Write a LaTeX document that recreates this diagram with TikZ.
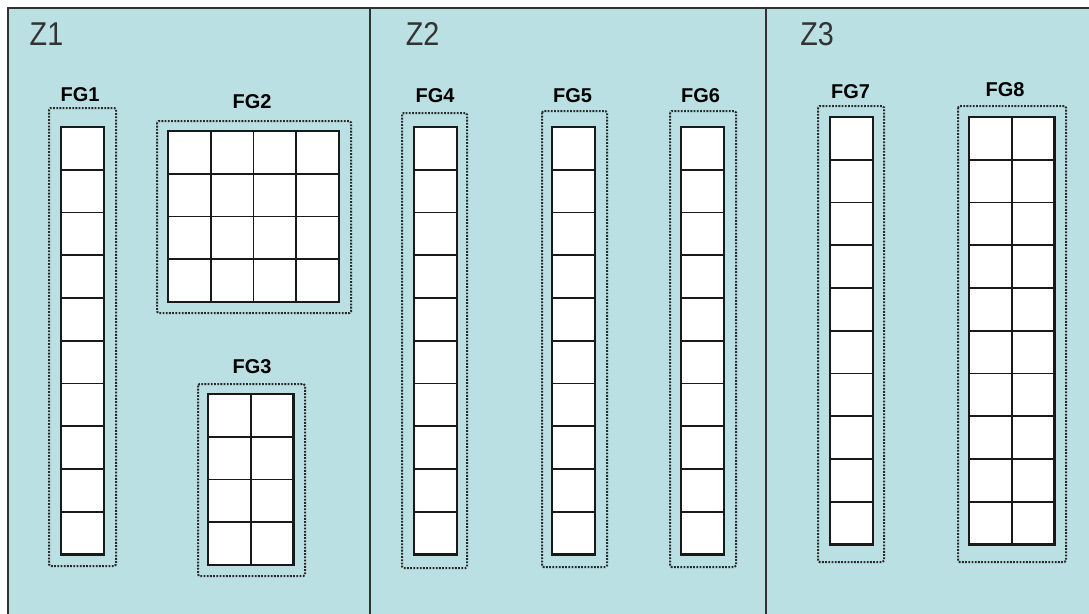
\documentclass[tikz,border=0pt]{standalone}
\usepackage{fontspec}
\setmainfont{Liberation Sans}
\definecolor{zonebg}{RGB}{187,224,227}
\definecolor{frameline}{RGB}{50,50,50}
\definecolor{dotline}{RGB}{40,40,40}
\begin{document}
\def\cw{42.75}
\newcommand\FGcells[4]{%
  \fill[white] (#1,#2) rectangle ++({#3*\cw},{#4*\cw});
  \foreach \i in {1,...,#3}{\foreach \j in {1,...,#4}{%
    \draw[cellline] ({#1+(\i-1)*\cw},{#2+(\j-1)*\cw}) rectangle ++(\cw,\cw);}}
  \draw[cellborder] (#1,#2) rectangle ++({#3*\cw},{#4*\cw});
}
\begin{tikzpicture}[x=1pt,y=-1pt,
  cellline/.style={draw=black!90, line width=1.8pt},
  cellborder/.style={draw=black!90, line width=2.3pt},
  fgbox/.style={draw=dotline, line width=2pt, dash pattern=on 1.8pt off 1.4pt, rounded corners=1.5pt},
  zonelab/.style={font=\fontsize{33}{33}\selectfont, text=black!80, xscale=0.87, inner sep=0pt},
  fglab/.style={font=\bfseries\fontsize{20}{20}\selectfont, text=black, inner sep=0pt},
  zoneline/.style={draw=frameline, line width=2pt}]
\useasboundingbox (0,0) rectangle (1089,613);
\fill[white] (0,0) rectangle (1089,613);
\fill[zonebg] (8,8) rectangle (1095,620);
\draw[zoneline] (8,620) -- (8,8) -- (1095,8);
\draw[zoneline] (370,8) -- (370,620);
\draw[zoneline] (766,8) -- (766,620);
% zone labels
\node[zonelab] (z1) at (46.5,34) {Z1};
\node[zonelab] (z2) at (422.5,34) {Z2};
\node[zonelab] (z3) at (817,34) {Z3};
% dotted group boxes
\draw[fgbox] (49,108) rectangle (116,566);
\draw[fgbox] (157,121) rectangle (351,313);
\draw[fgbox] (198,384) rectangle (305,576);
\draw[fgbox] (402,113) rectangle (467,568);
\draw[fgbox] (542,111) rectangle (607,567);
\draw[fgbox] (670,111) rectangle (736,567);
\draw[fgbox] (818,106) rectangle (884,562);
\draw[fgbox] (958,106) rectangle (1066,562);
% cell grids
\FGcells{61}{127}{1}{10}
\FGcells{168}{131}{4}{4}
\FGcells{208}{394}{2}{4}
\FGcells{414}{127}{1}{10}
\FGcells{552}{127}{1}{10}
\FGcells{681}{127}{1}{10}
\FGcells{830}{117}{1}{10}
\FGcells{969}{117}{2}{10}
% group labels
\node[fglab] (fg1) at (80,95) {FG1};
\node[fglab] (fg2) at (252,102) {FG2};
\node[fglab] (fg3) at (252,367) {FG3};
\node[fglab] (fg4) at (435,96) {FG4};
\node[fglab] (fg5) at (572.5,96) {FG5};
\node[fglab] (fg6) at (700.5,96) {FG6};
\node[fglab] (fg7) at (850.5,92) {FG7};
\node[fglab] (fg8) at (1005,90) {FG8};
\end{tikzpicture}
\end{document}
